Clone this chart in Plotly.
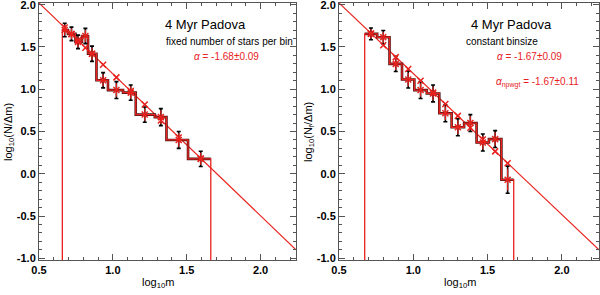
import plotly.graph_objects as go

# ---------------- data: left panel (fixed number of stars per bin) ----------------
edges_L = [0.658, 0.696, 0.747, 0.791, 0.832, 0.889, 0.967, 1.069, 1.155, 1.284, 1.363, 1.509, 1.663]
hist_L = [1.70, 1.655, 1.56, 1.63, 1.42, 1.106, 0.99, 0.96, 0.70, 0.67, 0.40, 0.176]
cent_L = [0.674, 0.720, 0.764, 0.814, 0.859, 0.934, 1.024, 1.121, 1.216, 1.325, 1.446, 1.595]
err_L = [0.08, 0.08, 0.08, 0.09, 0.09, 0.09, 0.10, 0.09, 0.09, 0.10, 0.10, 0.09]
fitpts_L = [1.73, 1.65, 1.58, 1.49, 1.42, 1.29, 1.14, 0.98, 0.82, 0.63, 0.43, 0.18]
fitline_x_L = [0.5, 2.24]
fitline_y_L = [2.02, -0.90]

# ---------------- data: right panel (constant binsize) ----------------
edges_R = [0.673, 0.757, 0.840, 0.924, 1.007, 1.091, 1.175, 1.258, 1.342, 1.426, 1.509, 1.593, 1.676]
hist_R = [1.655, 1.615, 1.30, 1.115, 0.99, 0.95, 0.715, 0.55, 0.60, 0.37, 0.41, -0.07]
cent_R = [0.715, 0.798, 0.882, 0.966, 1.049, 1.133, 1.216, 1.300, 1.384, 1.468, 1.551, 1.635]
err_R = [0.07, 0.08, 0.09, 0.10, 0.10, 0.10, 0.10, 0.10, 0.10, 0.10, 0.10, 0.16]
fitpts_R = [1.66, 1.52, 1.38, 1.24, 1.10, 0.96, 0.825, 0.685, 0.545, 0.405, 0.265, 0.125]
fitline_x_R = [0.5, 2.25]
fitline_y_R = [2.02, -0.90]

x_ticks = [0.5, 1.0, 1.5, 2.0]
y_ticks = [-1.0, -0.5, 0.0, 0.5, 1.0, 1.5, 2.0]
Y_BOTTOM = -1.02

DARK = "#4a1414"
RED = "#e8221e"

fig = go.Figure()


def step_path(edges, vals):
    xs = [edges[0]]
    ys = [Y_BOTTOM]
    for i, v in enumerate(vals):
        xs += [edges[i], edges[i + 1]]
        ys += [v, v]
    xs.append(edges[-1])
    ys.append(Y_BOTTOM)
    return xs, ys


def add_panel(edges, hist, cent, err, fitpts, flx, fly, xa, ya):
    fig.add_trace(go.Scatter(x=flx, y=fly, mode="lines", line=dict(color=RED, width=1.2),
                             xaxis=xa, yaxis=ya, showlegend=False, hoverinfo="skip"))
    sx, sy = step_path(edges, hist)
    fig.add_trace(go.Scatter(x=sx[1:-1], y=sy[1:-1], mode="lines",
                             line=dict(color=DARK, width=2.6),
                             xaxis=xa, yaxis=ya, showlegend=False))
    fig.add_trace(go.Scatter(x=sx, y=sy, mode="lines",
                             line=dict(color=RED, width=1.3),
                             xaxis=xa, yaxis=ya, showlegend=False))
    fig.add_trace(go.Scatter(x=cent, y=hist, mode="markers",
                             marker=dict(size=1, color="black"),
                             error_y=dict(type="data", array=err, color="black", thickness=1.6, width=2),
                             xaxis=xa, yaxis=ya, showlegend=False))
    fig.add_trace(go.Scatter(x=cent, y=hist, mode="markers",
                             marker=dict(symbol="x-thin", size=6, color=RED, line=dict(width=1.5, color=RED)),
                             error_y=dict(type="data", array=[e * 0.8 for e in err], color=RED, thickness=1.2, width=0),
                             xaxis=xa, yaxis=ya, showlegend=False))
    fig.add_trace(go.Scatter(x=cent, y=fitpts, mode="markers",
                             marker=dict(symbol="x-thin", size=6, color=RED, line=dict(width=1.5, color=RED)),
                             xaxis=xa, yaxis=ya, showlegend=False))


add_panel(edges_L, hist_L, cent_L, err_L, fitpts_L, fitline_x_L, fitline_y_L, "x", "y")
add_panel(edges_R, hist_R, cent_R, err_R, fitpts_R, fitline_x_R, fitline_y_R, "x2", "y2")

W, H = 600, 295


def px(x):
    return x / W


def py(y):
    return 1 - y / H


axis_common = dict(showgrid=False, zeroline=False, showline=True, linecolor="#555555", linewidth=1,
                   mirror="allticks", ticks="inside", ticklen=6, tickcolor="#555555", automargin=False,
                   ticklabeloverflow="allow",
                   tickfont=dict(family="Liberation Sans", size=11, color="black", weight="bold"))
xlabels = ["0.5", "1.0", "1.5", "2.0"]
ylabels = ["-1.0", "-0.5", "0.0", "0.5", "1.0", "1.5", "2.0"]
xminor = dict(dtick=0.1, tick0=0.5, ticks="inside", ticklen=3, tickcolor="#555555")
yminor = dict(dtick=0.1, tick0=0, ticks="inside", ticklen=3, tickcolor="#555555")

yd = [py(260), py(3)]
fig.update_layout(
    width=W, height=H, margin=dict(l=0, r=0, t=0, b=0, autoexpand=False),
    paper_bgcolor="white", plot_bgcolor="white",
    xaxis=dict(domain=[px(39), px(296)], range=[0.5, 2.24], tickvals=x_ticks, ticktext=xlabels,
               minor=xminor, anchor="y", **axis_common),
    yaxis=dict(domain=yd, range=[Y_BOTTOM, 2.02], tickvals=y_ticks, ticktext=ylabels,
               minor=yminor, anchor="x", **axis_common),
    xaxis2=dict(domain=[px(339), px(599)], range=[0.5, 2.25], tickvals=x_ticks, ticktext=xlabels,
                minor=xminor, anchor="y2", **axis_common),
    yaxis2=dict(domain=yd, range=[Y_BOTTOM, 2.02], tickvals=y_ticks, ticktext=ylabels,
                minor=yminor, anchor="x2", **axis_common),
)

F = "Liberation Sans"
ann = [
    dict(x=px(158), y=py(283), text="log<sub>10</sub>m", size=11, color="black"),
    dict(x=px(460), y=py(283), text="log<sub>10</sub>m", size=11, color="black"),
    dict(x=px(9), y=py(132), text="log<sub>10</sub>(N/Δm)", size=11, color="black", rot=-90),
    dict(x=px(309), y=py(132), text="log<sub>10</sub>(N<sub>f</sub>/Δm)", size=11, color="black", rot=-90),
    dict(x=px(205), y=py(24), text="4 Myr Padova", size=13, color="black"),
    dict(x=px(229), y=py(41), text="fixed number of stars per bin", size=10, color="black"),
    dict(x=px(226), y=py(56), text="<i>α</i> = -1.68±0.09", size=10, color=RED),
    dict(x=px(511), y=py(24), text="4 Myr Padova", size=13, color="black"),
    dict(x=px(502), y=py(41), text="constant binsize", size=10, color="black"),
    dict(x=px(529), y=py(56), text="<i>α</i> = -1.67±0.09", size=10, color=RED),
    dict(x=px(537), y=py(82), text="<i>α</i><sub>npwgt</sub> = -1.67±0.11", size=10, color=RED),
]
for a in ann:
    fig.add_annotation(x=a["x"], y=a["y"], xref="paper", yref="paper", text=a["text"], showarrow=False,
                       font=dict(family=F, size=a["size"], color=a["color"]),
                       textangle=a.get("rot", 0), xanchor="center", yanchor="middle")

fig.write_html("out.html", config={"displayModeBar": False},
               post_script="document.body.style.margin='0';document.body.style.overflow='hidden';")
